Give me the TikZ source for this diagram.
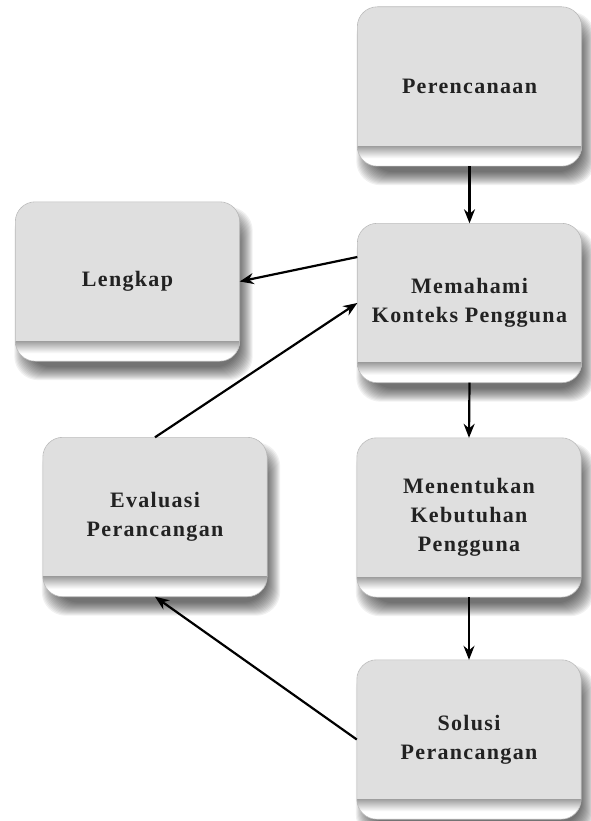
\documentclass[tikz,border=0pt]{standalone}
\usepackage{fontspec}
\setmainfont{Liberation Serif}[LetterSpace=6]
\usetikzlibrary{arrows.meta,calc}
\pgfdeclarelayer{background}
\pgfsetlayers{background,main}
\definecolor{boxfill}{HTML}{DFDFDF}
\definecolor{boxline}{HTML}{B8B8B8}
\definecolor{bandgray}{HTML}{A0A0A0}
\definecolor{labelink}{HTML}{222222}
\tikzset{
  stage/.style={rectangle, rounded corners=20pt, fill=boxfill,
    minimum width=224pt, minimum height=159pt, inner sep=0pt,
    align=center, text=labelink,
    font=\fontsize{22}{29}\selectfont\bfseries},
  flow/.style={-{Stealth[length=14pt,width=11pt]}, line width=2.2pt, black},
}
\begin{document}
\begin{tikzpicture}[x=1pt,y=-1pt]
  \useasboundingbox (0,0) rectangle (590,821);

  % process stages
  \node[stage] (plan) at (469.5,86.5)  {Perencanaan};
  \node[stage] (ctx)  at (469.5,303)   {Memahami\\Konteks Pengguna};
  \node[stage] (need) at (469,517.5)   {Menentukan\\Kebutuhan\\Pengguna};
  \node[stage] (sol)  at (469,739.5)   {Solusi\\Perancangan};
  \node[stage] (done) at (127.5,281.5) {Lengkap};
  \node[stage] (eval) at (155,517)     {Evaluasi\\Perancangan};

  \foreach \n in {plan,ctx,need,sol,done,eval}{
    % soft drop shadow
    \begin{pgfonlayer}{background}
      \foreach \k in {0,...,13}{
        \fill[black, opacity=0.055, rounded corners=24pt]
          ($(\n.north west)+(6+\k-7,12+\k-7)$) rectangle
          ($(\n.south east)+(6-\k+7,12-\k+7)$);
      }
    \end{pgfonlayer}
    % shaded foot band
    \begin{scope}
      \clip[rounded corners=20pt] (\n.north west) rectangle (\n.south east);
      \fill[white] ($(\n.south west)+(0,-20)$) rectangle (\n.south east);
      \shade[top color=bandgray, bottom color=white]
        ($(\n.south west)+(0,-20)$) rectangle ($(\n.south east)+(0,-8)$);
    \end{scope}
    \draw[boxline, line width=0.6pt, rounded corners=20pt]
      (\n.north west) rectangle (\n.south east);
  }

  % connectors
  \draw[flow] (plan.south) -- (ctx.north);
  \draw[flow] (ctx.south) -- (need.north);
  \draw[flow] (need.south) -- (sol.north);
  \draw[flow] ($(ctx.west)+(0,-46)$) -- (done.east);
  \draw[flow] (eval.north) -- (ctx.west);
  \draw[flow] (sol.west) -- (eval.south);
\end{tikzpicture}
\end{document}
